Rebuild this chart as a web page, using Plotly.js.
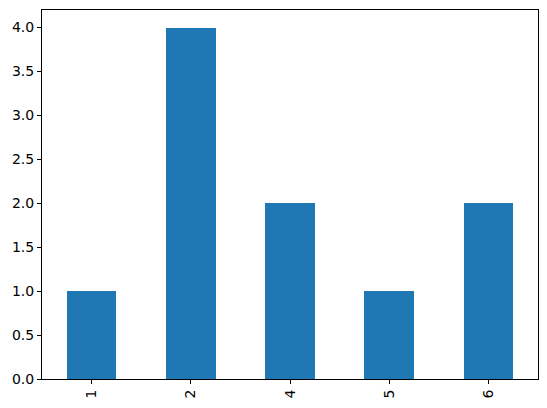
<!DOCTYPE html>
<html>
<head>
<meta charset="utf-8">
<script src="https://cdn.plot.ly/plotly-3.0.1.min.js"></script>
<style>
  html, body { margin: 0; padding: 0; background: #fff; }
  #plot { width: 547px; height: 408px; }
</style>
</head>
<body>
<div id="plot"></div>
<script>
// categories and counts
const categories = ["1", "2", "4", "5", "6"]
const counts = [1, 4, 2, 1, 2]
const yTicks = [0, 0.5, 1, 1.5, 2, 2.5, 3, 3.5, 4]

const trace = {
  type: "bar",
  x: categories,
  y: counts,
  width: 0.5,
  marker: { color: "#1f77b4", line: { width: 0 } },
  hoverinfo: "x+y"
}

const axisStyle = {
  showgrid: false,
  zeroline: false,
  showline: true,
  linecolor: "#000",
  linewidth: 1,
  mirror: true,
  ticks: "outside",
  ticklen: 4,
  tickwidth: 1,
  tickcolor: "#000",
  tickfont: { family: "DejaVu Sans", size: 14, color: "#000" }
}

const layout = {
  width: 547,
  height: 408,
  margin: { l: 42, r: 9, t: 10, b: 29, pad: 0 },
  paper_bgcolor: "#fff",
  plot_bgcolor: "#fff",
  showlegend: false,
  bargap: 0,
  xaxis: Object.assign({}, axisStyle, {
    type: "category",
    range: [-0.5, 4.5],
    tickangle: -90
  }),
  yaxis: Object.assign({}, axisStyle, {
    range: [0, 4.2],
    tickvals: yTicks,
    ticktext: yTicks.map(v => v.toFixed(1))
  })
}

Plotly.newPlot("plot", [trace], layout, { displayModeBar: false, staticPlot: true })
</script>
</body>
</html>
